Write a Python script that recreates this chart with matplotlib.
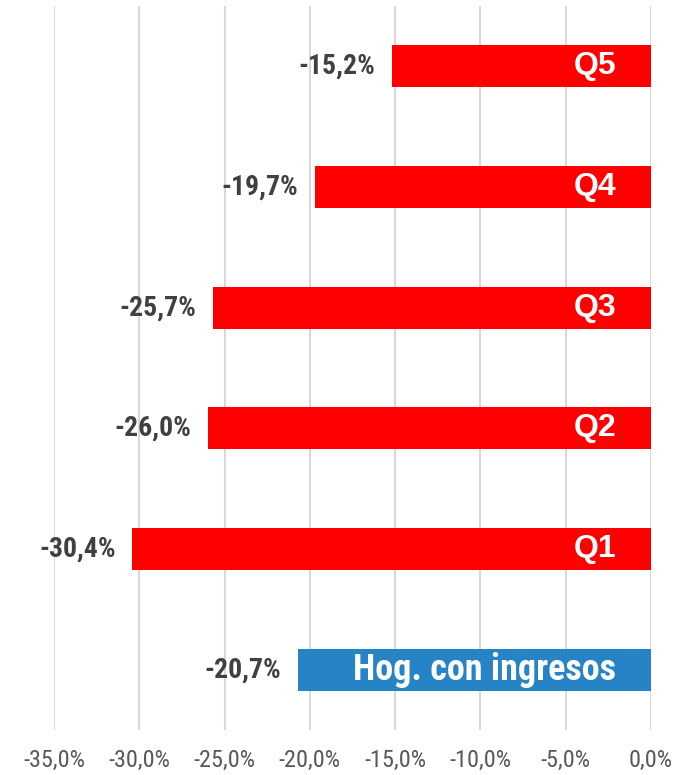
import matplotlib
matplotlib.use("Agg")
import matplotlib.pyplot as plt
from matplotlib.ticker import FuncFormatter

categories = ["Hog. con ingresos", "Q1", "Q2", "Q3", "Q4", "Q5"]
values = [-20.7, -30.4, -26.0, -25.7, -19.7, -15.2]
colors = ["#2683C6", "#FF0000", "#FF0000", "#FF0000", "#FF0000", "#FF0000"]
xticks = [-35, -30, -25, -20, -15, -10, -5, 0]

NARROW = ["Roboto Condensed", "DejaVu Sans"]
ARIAL = ["Liberation Sans", "DejaVu Sans"]


def pct(v, pos=None):
    return f"{v:.1f}%".replace(".", ",")


def main():
    fig = plt.figure(figsize=(6.82, 7.75), dpi=100)
    ax = fig.add_axes([54 / 682, 45 / 775, 597 / 682, 724 / 775])

    y = list(range(len(categories)))
    ax.barh(y, values, height=0.35, color=colors, zorder=3)

    for yi, v, cat in zip(y, values, categories):
        ax.annotate(pct(v), (v, yi), xytext=(-12, 0), textcoords="offset points",
                    ha="right", va="center", fontsize=20, fontweight="bold",
                    color="#404040", family=NARROW)
        if cat.startswith("Q"):
            ax.annotate(cat, (0, yi), xytext=(-25, 0), textcoords="offset points",
                        ha="right", va="center", fontsize=23, fontweight="bold",
                        color="white", family=ARIAL)
        else:
            ax.annotate(cat, (0, yi), xytext=(-25, 0), textcoords="offset points",
                        ha="right", va="center", fontsize=26, fontweight="bold",
                        color="white", family=NARROW)

    ax.set_xlim(-35, 0)
    ax.set_ylim(-0.5, len(categories) - 0.5)
    ax.set_xticks(xticks)
    ax.xaxis.set_major_formatter(FuncFormatter(pct))
    ax.set_yticks([])
    ax.grid(axis="x", color="#D9D9D9", linewidth=1.5, zorder=0)
    for s in ax.spines.values():
        s.set_visible(False)
    ax.tick_params(axis="x", length=0, pad=14, labelsize=17.5, labelcolor="#595959")
    for lbl in ax.get_xticklabels():
        lbl.set_family(NARROW)

    fig.savefig("out.png", dpi=100)


if __name__ == "__main__":
    main()
